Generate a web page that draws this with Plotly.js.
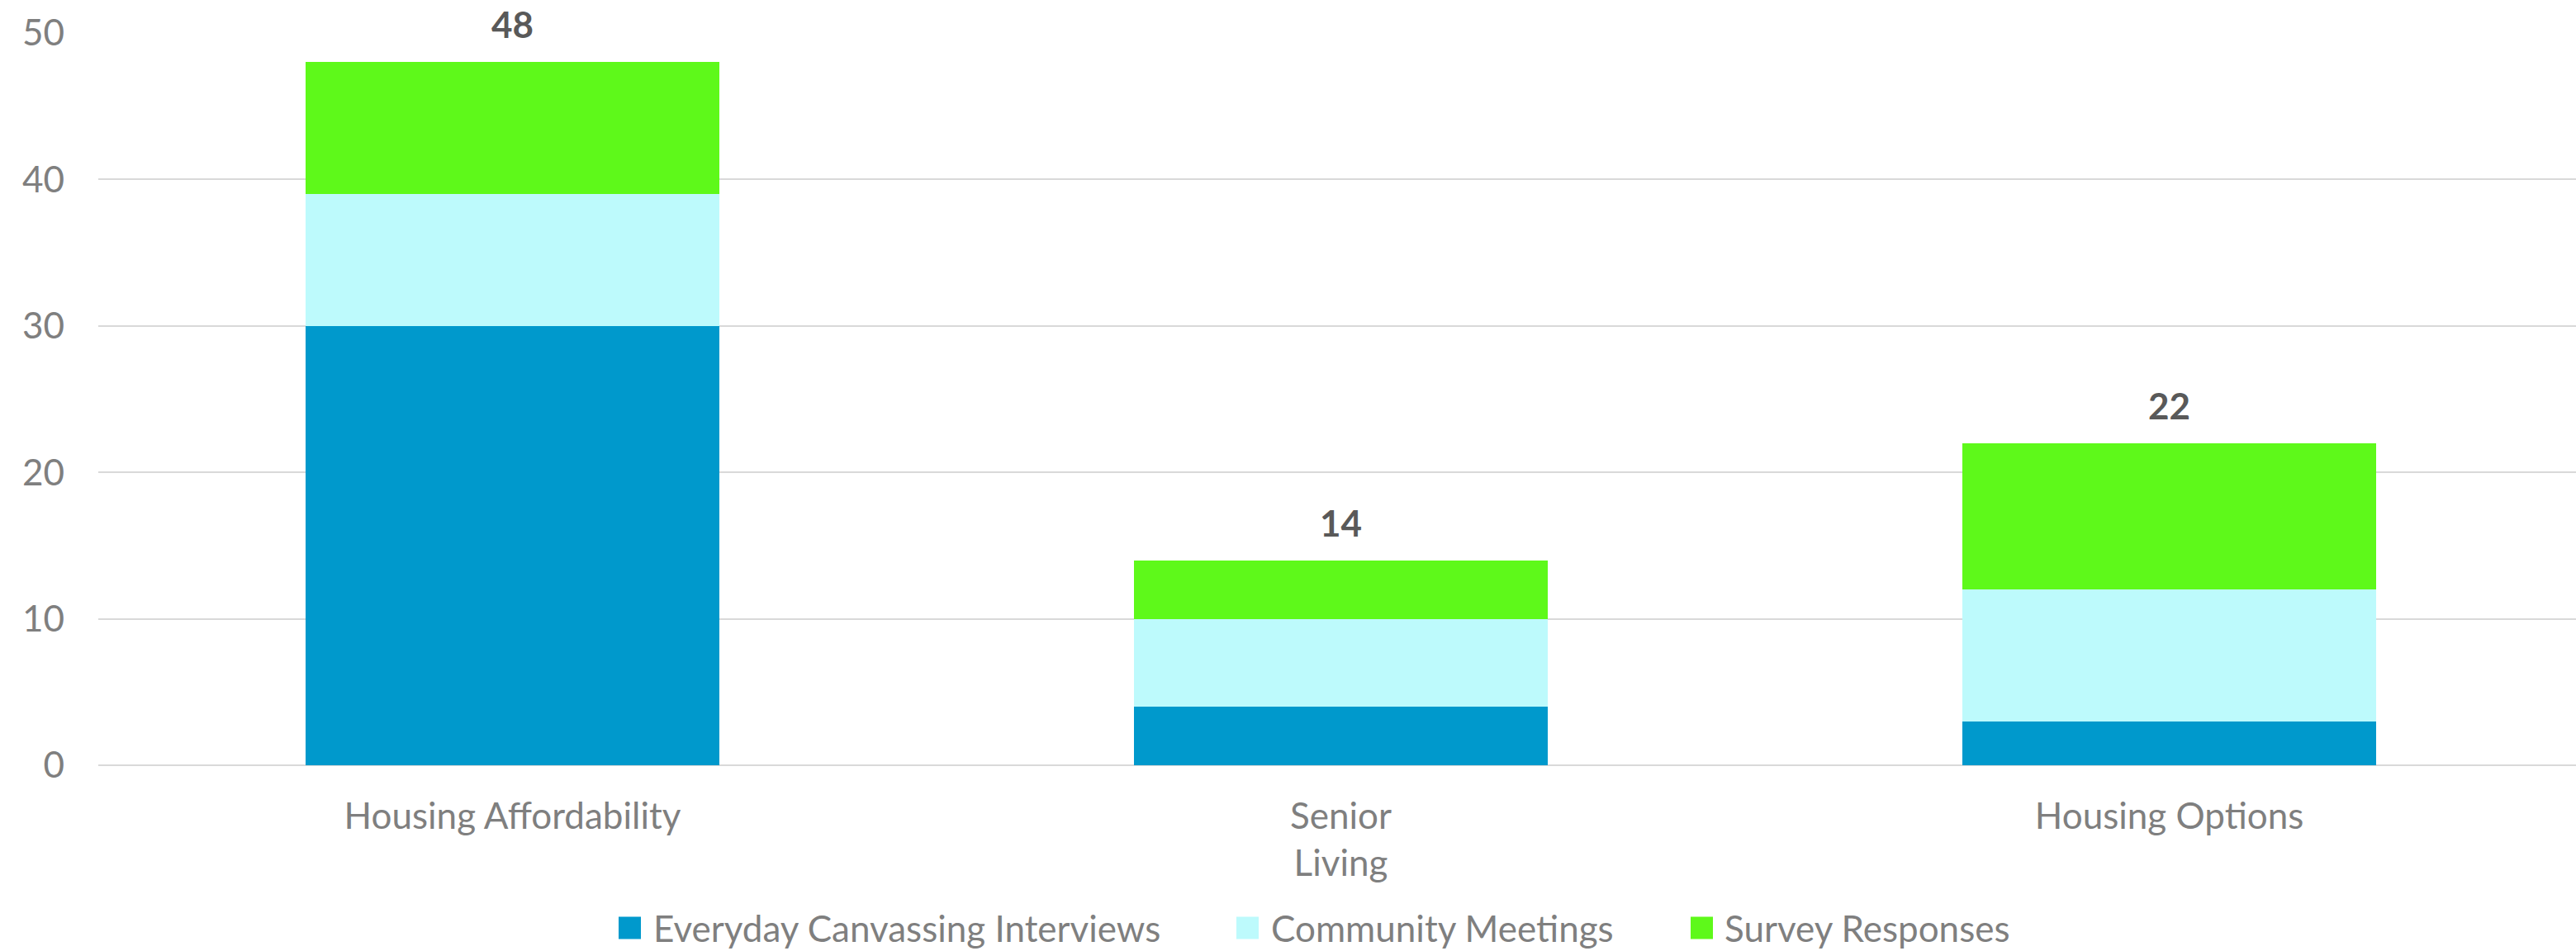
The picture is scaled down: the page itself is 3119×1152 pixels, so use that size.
<!DOCTYPE html>
<html><head><meta charset="utf-8">
<script src="https://cdn.plot.ly/plotly-3.0.1.min.js"></script>
<style>html,body{margin:0;padding:0;background:#fff;}#chart{width:3119px;height:1152px;}</style>
</head><body><div id="chart"></div>
<script>
const categories = ["Housing Affordability", "Senior<br>Living", "Housing Options"];
const seriesNames = ["Everyday Canvassing Interviews", "Community Meetings", "Survey Responses"];
const canvassing = [30, 4, 3];
const meetings = [9, 6, 9];
const survey = [9, 4, 10];
const seriesColors = ["#0099CC", "#BDFAFC", "#5EF91A"];
const yTicks = [0, 10, 20, 30, 40, 50];

const seriesValues = [canvassing, meetings, survey];
const totals = categories.map((c, i) => seriesValues.reduce((s, arr) => s + arr[i], 0));

const FONT = "Lato, 'Open Sans', sans-serif";
const W = 3119, H = 1152;
const L = 119, R = 0, T = 40, B = 225;
const pw = W - L - R, ph = H - T - B;

const traces = seriesValues.map((vals, k) => ({
  type: 'bar', name: seriesNames[k], x: categories, y: vals,
  marker: {color: seriesColors[k], line: {width: 0}},
  showlegend: false, hoverinfo: 'x+y+name'
}));

const annotations = categories.map((c, i) => ({
  x: c, y: totals[i], xref: 'x', yref: 'y', text: String(totals[i]),
  showarrow: false, yanchor: 'middle', yshift: 46,
  font: {family: FONT, size: 44, color: '#595959', weight: 'bold'}
}));

// manual legend (squares + text) below plot
const legendSquareX = [749, 1497, 2047];
const legendTextX = [790, 1538, 2087];
const legendY = 1124;
const shapes = [];
seriesNames.forEach((n, k) => {
  shapes.push({
    type: 'rect', xref: 'paper', yref: 'paper',
    xsizemode: 'pixel', ysizemode: 'pixel',
    xanchor: (legendSquareX[k] - L) / pw, yanchor: (T + ph - legendY) / ph,
    x0: 0, x1: 27, y0: -13.5, y1: 13.5,
    fillcolor: seriesColors[k], line: {width: 0}
  });
  annotations.push({
    x: (legendTextX[k] - L) / pw, y: (T + ph - legendY) / ph, xref: 'paper', yref: 'paper',
    xanchor: 'left', yanchor: 'middle', showarrow: false, text: n,
    font: {family: FONT, size: 44, color: '#7f7f7f'}, borderpad: 0
  });
});

const layout = {
  width: W, height: H,
  margin: {l: L, r: R, t: T, b: B, pad: 0},
  paper_bgcolor: '#ffffff', plot_bgcolor: '#ffffff',
  barmode: 'stack', bargap: 0.5,
  showlegend: false,
  xaxis: {
    type: 'category', range: [-0.5, 2.491],
    showgrid: false, zeroline: false, showline: false, ticks: '',
    tickfont: {family: FONT, size: 44, color: '#7f7f7f'},
    ticklabelstandoff: 32, automargin: false
  },
  yaxis: {
    range: [0, 50], tickvals: yTicks, ticktext: yTicks.map(String),
    showgrid: true, gridcolor: '#d9d9d9', gridwidth: 2,
    zeroline: true, zerolinecolor: '#d9d9d9', zerolinewidth: 2,
    showline: false, ticks: '',
    tickfont: {family: FONT, size: 44, color: '#7f7f7f'},
    ticklabelstandoff: 40, automargin: false
  },
  annotations: annotations,
  shapes: shapes
};

Plotly.newPlot('chart', traces, layout, {displayModeBar: false, staticPlot: true});
</script>
</body></html>
